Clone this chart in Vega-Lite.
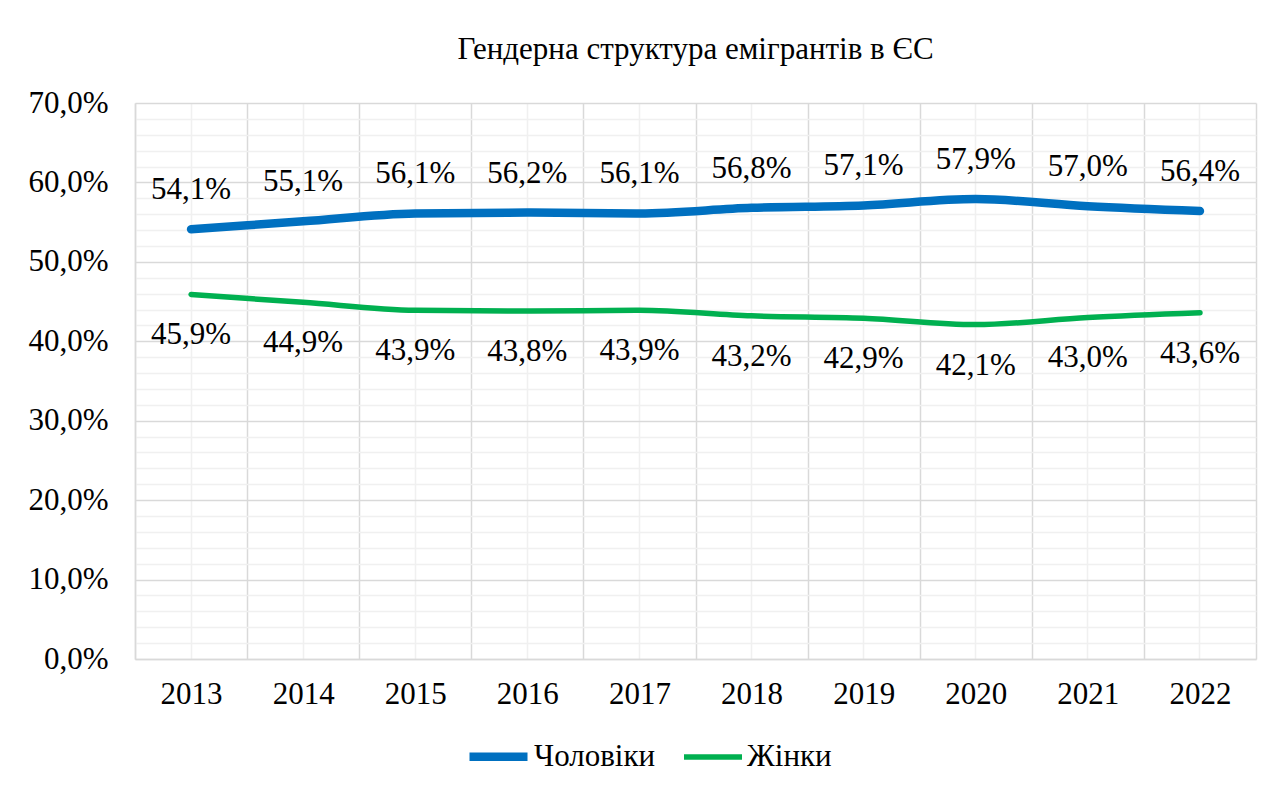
{
  "$schema": "https://vega.github.io/schema/vega-lite/v6.json",
  "width": 1121,
  "height": 556,
  "autosize": {"type": "none"},
  "padding": {"left": 135, "top": 103, "right": 21, "bottom": 133},
  "background": "white",
  "title": {"text": "Гендерна структура емігрантів в ЄС", "font": "Liberation Serif", "fontSize": 31, "fontWeight": "normal", "color": "#000000", "anchor": "middle", "offset": 21},
  "config": {
    "view": {"stroke": null},
    "locale": {"number": {"decimal": ",", "thousands": " ", "grouping": [3], "currency": ["", " ₴"]}},
    "axis": {"labelFont": "Liberation Serif", "labelFontSize": 31, "labelColor": "#000000", "ticks": false, "title": null}
  },
  "data": {"values": [
    {"year": "2013", "sex": "Чоловіки", "value": 0.541},
    {"year": "2014", "sex": "Чоловіки", "value": 0.551},
    {"year": "2015", "sex": "Чоловіки", "value": 0.561},
    {"year": "2016", "sex": "Чоловіки", "value": 0.562},
    {"year": "2017", "sex": "Чоловіки", "value": 0.561},
    {"year": "2018", "sex": "Чоловіки", "value": 0.568},
    {"year": "2019", "sex": "Чоловіки", "value": 0.571},
    {"year": "2020", "sex": "Чоловіки", "value": 0.579},
    {"year": "2021", "sex": "Чоловіки", "value": 0.570},
    {"year": "2022", "sex": "Чоловіки", "value": 0.564},
    {"year": "2013", "sex": "Жінки", "value": 0.459},
    {"year": "2014", "sex": "Жінки", "value": 0.449},
    {"year": "2015", "sex": "Жінки", "value": 0.439},
    {"year": "2016", "sex": "Жінки", "value": 0.438},
    {"year": "2017", "sex": "Жінки", "value": 0.439},
    {"year": "2018", "sex": "Жінки", "value": 0.432},
    {"year": "2019", "sex": "Жінки", "value": 0.429},
    {"year": "2020", "sex": "Жінки", "value": 0.421},
    {"year": "2021", "sex": "Жінки", "value": 0.430},
    {"year": "2022", "sex": "Жінки", "value": 0.436}
  ]},
  "layer": [
    {
      "mark": {"type": "text", "opacity": 0},
      "encoding": {
        "x": {"field": "year", "type": "ordinal", "bandPosition": 0.5, "scale": {"type": "band", "paddingInner": 0, "paddingOuter": 0},
          "axis": {"orient": "bottom", "labels": false, "domain": false, "grid": true, "gridColor": "#f0f0f0", "gridWidth": 1.5, "tickBand": "center"}},
        "y": {"field": "value", "type": "quantitative", "scale": {"domain": [0, 0.7], "nice": false, "zero": true},
          "axis": {"orient": "left", "labels": false, "domain": false, "grid": true, "gridColor": "#f0f0f0", "gridWidth": 1.5,
            "values": [0.02, 0.04, 0.06, 0.08, 0.12, 0.14, 0.16, 0.18, 0.22, 0.24, 0.26, 0.28, 0.32, 0.34, 0.36, 0.38, 0.42, 0.44, 0.46, 0.48, 0.52, 0.54, 0.56, 0.58, 0.62, 0.64, 0.66, 0.68]}},
        "text": {"field": "value", "type": "quantitative"}
      }
    },
    {
      "mark": {"type": "line", "interpolate": "monotone", "strokeCap": "round"},
      "encoding": {
        "x": {"field": "year", "type": "ordinal", "bandPosition": 0.5,
          "axis": {"orient": "bottom", "labelPadding": 20, "domain": true, "domainColor": "#d9d9d9", "domainWidth": 1.5, "grid": true, "gridColor": "#d9d9d9", "gridWidth": 1.5, "tickBand": "extent", "labelAngle": 0}},
        "y": {"field": "value", "type": "quantitative",
          "axis": {"orient": "left", "labelPadding": 27, "domain": true, "domainColor": "#d9d9d9", "domainWidth": 1.5, "grid": true, "gridColor": "#d9d9d9", "gridWidth": 1.5, "format": ".1%",
            "values": [0, 0.1, 0.2, 0.3, 0.4, 0.5, 0.6, 0.7]}},
        "color": {"field": "sex", "type": "nominal", "scale": {"domain": ["Чоловіки", "Жінки"], "range": ["#0070C0", "#00B050"]},
          "legend": {"title": null, "orient": "none", "legendX": 330, "legendY": 620, "direction": "horizontal", "symbolType": "stroke", "symbolSize": 3364, "labelFont": "Liberation Serif", "labelFontSize": 31, "labelColor": "#000000", "labelOffset": 2, "columnPadding": 17}},
        "strokeWidth": {"field": "sex", "type": "nominal", "scale": {"domain": ["Чоловіки", "Жінки"], "range": [8.5, 5.5]},
          "legend": {"title": null, "orient": "none", "legendX": 330, "legendY": 620, "direction": "horizontal", "symbolType": "stroke", "symbolSize": 3364, "labelFont": "Liberation Serif", "labelFontSize": 31, "labelColor": "#000000", "labelOffset": 2, "columnPadding": 17}}
      }
    },
    {
      "transform": [{"filter": "datum.sex === 'Чоловіки'"}],
      "mark": {"type": "text", "font": "Liberation Serif", "fontSize": 31, "color": "#000000", "dy": -39},
      "encoding": {
        "x": {"field": "year", "type": "ordinal", "bandPosition": 0.5, "axis": null},
        "y": {"field": "value", "type": "quantitative", "axis": null},
        "text": {"field": "value", "type": "quantitative", "format": ".1%"}
      }
    },
    {
      "transform": [{"filter": "datum.sex === 'Жінки'"}],
      "mark": {"type": "text", "font": "Liberation Serif", "fontSize": 31, "color": "#000000", "dy": 41},
      "encoding": {
        "x": {"field": "year", "type": "ordinal", "bandPosition": 0.5, "axis": null},
        "y": {"field": "value", "type": "quantitative", "axis": null},
        "text": {"field": "value", "type": "quantitative", "format": ".1%"}
      }
    }
  ],
  "resolve": {"axis": {"x": "independent", "y": "independent"}}
}
